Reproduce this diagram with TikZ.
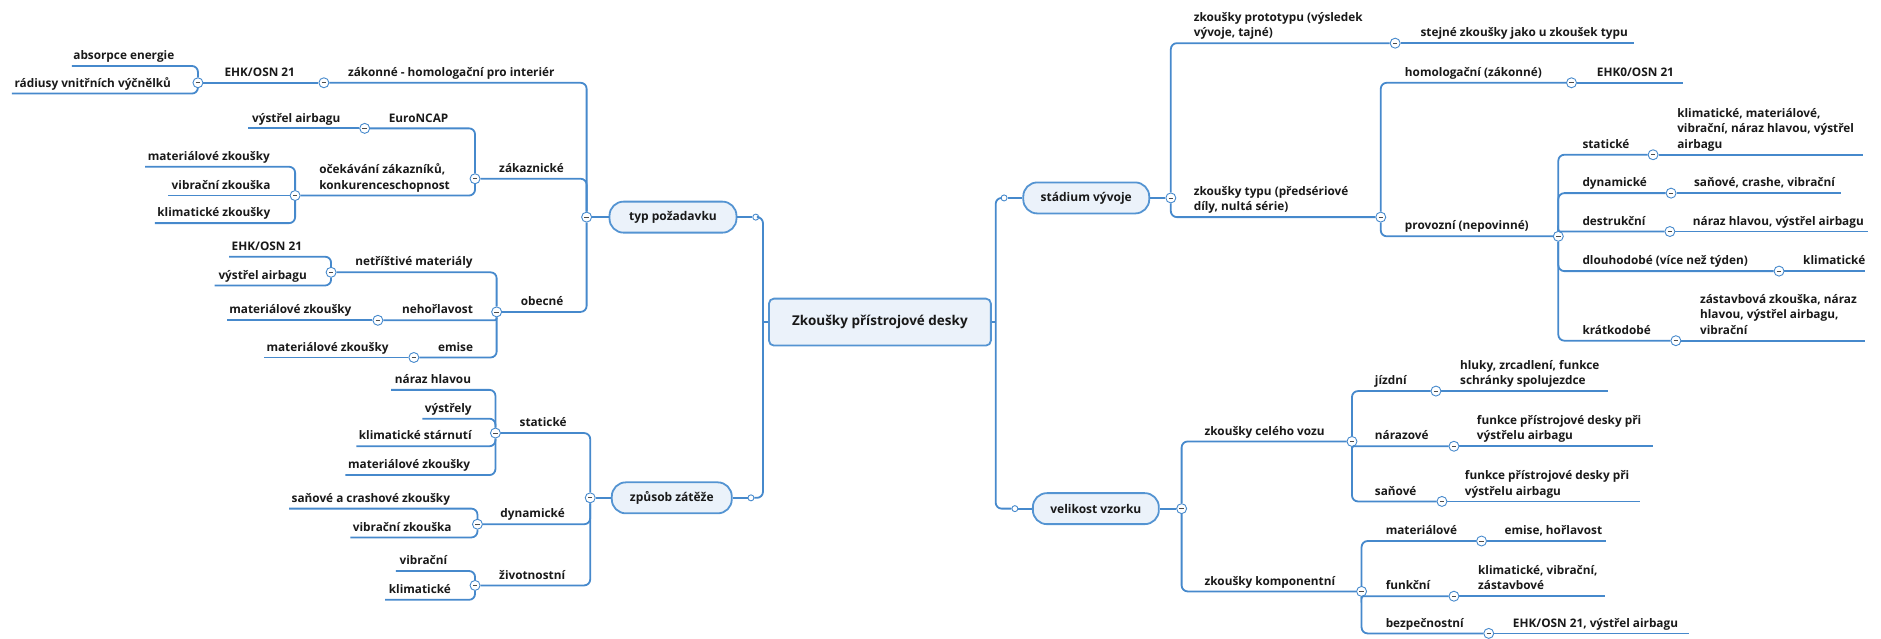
\documentclass[tikz,border=0pt]{standalone}
\usepackage{fontspec}
\setmainfont{Open Sans}
\definecolor{lineblue}{RGB}{70,137,204}
\definecolor{pillfill}{RGB}{235,242,250}
\definecolor{pilldraw}{RGB}{84,148,210}
\definecolor{txtcol}{RGB}{25,25,25}
\tikzset{
  lnk/.style ={draw=lineblue,line width=1.8pt,rounded corners=6pt},
  tog/.style ={circle,draw=lineblue,fill=white,line width=0.9pt,minimum size=10pt,inner sep=0pt,
               path picture={\draw[black!70,line width=0.8pt]
                 ([xshift=-2.2pt]path picture bounding box.center) -- ([xshift=2.2pt]path picture bounding box.center);}},
  knob/.style={circle,draw=lineblue,fill=white,line width=0.9pt,minimum size=6pt,inner sep=0pt},
  pill/.style={rectangle,draw=pilldraw,fill=pillfill,line width=1.8pt,rounded corners=14pt,
               minimum height=31pt,inner sep=0pt,font=\bfseries\fontsize{12}{14}\selectfont,text=txtcol},
  tx/.style  ={anchor=south west,inner sep=0pt,yshift=1.5pt,align=left,
               font=\bfseries\fontsize{11.8}{15.5}\selectfont,text=txtcol,execute at end node=\strut}
}

\begin{document}
\begin{tikzpicture}[x=1.2pt,y=-1.2pt]
\useasboundingbox (0,0) rectangle (1568,532);

% -------- centre --------
\node[rectangle,draw=pilldraw,fill=pillfill,line width=1.8pt,rounded corners=5pt,minimum width=222pt,
      minimum height=47pt,font=\bfseries\fontsize{13.5}{16}\selectfont,text=txtcol] (root) at (733.5,268.5)
      {Zkoušky přístrojové desky};
\node[pill,minimum width=127pt] (typ)  at (561,181)   {typ požadavku};
\node[pill,minimum width=120pt] (zat)  at (560,415)   {způsob zátěže};
\node[pill,minimum width=126pt] (stad) at (905.5,165) {stádium vývoje};
\node[pill,minimum width=126pt] (vel)  at (913.5,424) {velikost vzorku};

\coordinate (jl) at (636,268.5);
\coordinate (jr) at (830,268.5);
\node[knob] (typK)  at (630,181) {};
\node[knob] (zatK)  at (626,415) {};
\node[knob] (stadK) at (837,165) {};
\node[knob] (velK)  at (846,424) {};

\draw[lnk] (typK) -| (jl) |- (zatK);
\draw[lnk] (stadK) -| (jr) |- (velK);
\foreach \a/\b in {root.west/jl,root.east/jr,typ/typK,zat/zatK,stad/stadK,vel/velK} \draw[lnk] (\a) -- (\b);

% -------- toggles --------
\node[tog] (typG)  at (489,181) {};
\node[tog] (zatG)  at (492,415) {};
\node[tog] (stadG) at (976,165) {};
\node[tog] (velG)  at (985,424) {};

\node[tog] (zak)  at (270,69)  {};
\node[tog] (ehk1) at (165,69)  {};
\node[tog] (zkaz) at (396,149) {};
\node[tog] (euro) at (304,107) {};
\node[tog] (ocek) at (246,163) {};
\node[tog] (obe)  at (414,260) {};
\node[tog] (net)  at (276,227) {};
\node[tog] (neh)  at (315,267) {};
\node[tog] (emi)  at (345,298) {};

\node[tog] (sta)  at (413,361) {};
\node[tog] (dyn)  at (398,437) {};
\node[tog] (ziv)  at (396,488) {};

\node[tog] (pro)  at (1163,36)  {};
\node[tog] (ztyp) at (1151,181) {};
\node[tog] (hom)  at (1310,69)  {};
\node[tog] (prv)  at (1299,197) {};
\node[tog] (sta2) at (1378,129) {};
\node[tog] (dyn2) at (1393,161) {};
\node[tog] (des)  at (1392,193) {};
\node[tog] (dlo)  at (1483,226) {};
\node[tog] (kra)  at (1397,284) {};

\node[tog] (cel)  at (1127,368) {};
\node[tog] (jiz)  at (1197,326) {};
\node[tog] (nrz)  at (1212,372) {};
\node[tog] (sno)  at (1202,418) {};
\node[tog] (kom)  at (1135,493) {};
\node[tog] (mtr)  at (1235,451) {};
\node[tog] (fnk)  at (1212,497) {};
\node[tog] (bez)  at (1241,528) {};

% -------- free ends of the leaves --------
\coordinate (abs)  at (60,55);
\coordinate (rad)  at (10,78);
\coordinate (vys1) at (207,107);
\coordinate (mat1) at (121,139);
\coordinate (vib1) at (140,163);
\coordinate (kli1) at (129,186);
\coordinate (ehk2) at (191,214);
\coordinate (vys2) at (179,238);
\coordinate (mat2) at (189,267);
\coordinate (mat3) at (220,298);
\coordinate (nar1) at (326,325);
\coordinate (vys3) at (352,349);
\coordinate (kst)  at (297,372);
\coordinate (mat4) at (288,396);
\coordinate (san1) at (241,424);
\coordinate (vib2) at (292,448);
\coordinate (vib3) at (330,476);
\coordinate (kli2) at (321,500);
\coordinate (stej) at (1362,36);
\coordinate (ehk3) at (1403,69);
\coordinate (kl3)  at (1553,129);
\coordinate (san2) at (1535,161);
\coordinate (nar2) at (1557,193);
\coordinate (kli4) at (1555,226);
\coordinate (zas)  at (1555,284);
\coordinate (hlu)  at (1340,326);
\coordinate (fun1) at (1378,372);
\coordinate (fun2) at (1367,418);
\coordinate (emh)  at (1339,451);
\coordinate (kvz)  at (1338,497);
\coordinate (ehv)  at (1408,528);

% -------- branches --------
\draw[lnk] (typ) -- (typG);
\draw[lnk] (zat) -- (zatG);
\draw[lnk] (stad) -- (stadG);
\draw[lnk] (vel) -- (velG);

\foreach \a/\b in {typG/zak,typG/zkaz,typG/obe,ehk1/abs,ehk1/rad,zkaz/euro,zkaz/ocek,ocek/mat1,ocek/kli1,
                   obe/net,obe/emi,net/ehk2,net/vys2,zatG/sta,zatG/dyn,zatG/ziv,sta/nar1,sta/vys3,sta/kst,
                   sta/mat4,dyn/san1,dyn/vib2,ziv/vib3,ziv/kli2,stadG/pro,stadG/ztyp,ztyp/hom,ztyp/prv,
                   prv/sta2,prv/dyn2,prv/dlo,prv/kra,velG/cel,velG/kom,cel/jiz,cel/sno,kom/mtr,kom/bez}
  \draw[lnk] (\a) |- (\b);
\foreach \a/\b in {obe/neh,prv/des,cel/nrz,kom/fnk} \draw[lnk,rounded corners=2pt] (\a) |- (\b);
\foreach \a/\b in {zak/ehk1,euro/vys1,ocek/vib1,neh/mat2,emi/mat3,pro/stej,hom/ehk3,sta2/kl3,dyn2/san2,
                   des/nar2,dlo/kli4,kra/zas,jiz/hlu,nrz/fun1,sno/fun2,mtr/emh,fnk/kvz,bez/ehv}
  \draw[lnk] (\a) -- (\b);

% -------- texts, left --------
\node[tx] (zakT)  at (290,69)  {zákonné - homologační pro interiér};
\node[tx] (ehk1T) at (187,69)  {EHK/OSN 21};
\node[tx] (absT)  at (61,55)   {absorpce energie};
\node[tx] (radT)  at (12,78)   {rádiusy vnitřních výčnělků};
\node[tx] (zkazT) at (416,149) {zákaznické};
\node[tx] (euroT) at (324,107) {EuroNCAP};
\node[tx] (vys1T) at (210,107) {výstřel airbagu};
\node[tx] (ocekT) at (266,163) {očekávání zákazníků,\\konkurenceschopnost};
\node[tx] (mat1T) at (123,139) {materiálové zkoušky};
\node[tx] (vib1T) at (143,163) {vibrační zkouška};
\node[tx] (kli1T) at (131,186) {klimatické zkoušky};
\node[tx] (obeT)  at (434,260) {obecné};
\node[tx] (netT)  at (296,227) {netříštivé materiály};
\node[tx] (ehk2T) at (193,214) {EHK/OSN 21};
\node[tx] (vys2T) at (182,238) {výstřel airbagu};
\node[tx] (nehT)  at (335,267) {nehořlavost};
\node[tx] (mat2T) at (191,267) {materiálové zkoušky};
\node[tx] (emiT)  at (365,298) {emise};
\node[tx] (mat3T) at (222,298) {materiálové zkoušky};

\node[tx] (staT)  at (433,361) {statické};
\node[tx] (nar1T) at (329,325) {náraz hlavou};
\node[tx] (vys3T) at (354,349) {výstřely};
\node[tx] (kstT)  at (299,372) {klimatické stárnutí};
\node[tx] (mat4T) at (290,396) {materiálové zkoušky};
\node[tx] (dynT)  at (417,437) {dynamické};
\node[tx] (san1T) at (243,424) {saňové a crashové zkoušky};
\node[tx] (vib2T) at (294,448) {vibrační zkouška};
\node[tx] (zivT)  at (416,488) {životnostní};
\node[tx] (vib3T) at (333,476) {vibrační};
\node[tx] (kli2T) at (324,500) {klimatické};

% -------- texts, right --------
\node[tx] (proT)  at (995,36)   {zkoušky prototypu (výsledek\\vývoje, tajné)};
\node[tx] (stejT) at (1184,36)  {stejné zkoušky jako u zkoušek typu};
\node[tx] (ztypT) at (995,181)  {zkoušky typu (předsériové\\díly, nultá série)};
\node[tx] (homT)  at (1171,69)  {homologační (zákonné)};
\node[tx] (ehk3T) at (1331,69)  {EHK0/OSN 21};
\node[tx] (prvT)  at (1171,197) {provozní (nepovinné)};
\node[tx] (sta2T) at (1319,129) {statické};
\node[tx] (kl3T)  at (1398,129) {klimatické, materiálové,\\vibrační, náraz hlavou, výstřel\\airbagu};
\node[tx] (dyn2T) at (1319,161) {dynamické};
\node[tx] (san2T) at (1412,161) {saňové, crashe, vibrační};
\node[tx] (desT)  at (1319,193) {destrukční};
\node[tx] (nar2T) at (1411,193) {náraz hlavou, výstřel airbagu};
\node[tx] (dloT)  at (1319,226) {dlouhodobé (více než týden)};
\node[tx] (kli4T) at (1503,226) {klimatické};
\node[tx] (kraT)  at (1319,284) {krátkodobé};
\node[tx] (zasT)  at (1417,284) {zástavbová zkouška, náraz\\hlavou, výstřel airbagu,\\vibrační};

\node[tx] (celT)  at (1004,368) {zkoušky celého vozu};
\node[tx] (jizT)  at (1146,326) {jízdní};
\node[tx] (hluT)  at (1217,326) {hluky, zrcadlení, funkce\\schránky spolujezdce};
\node[tx] (nrzT)  at (1146,372) {nárazové};
\node[tx] (fun1T) at (1231,372) {funkce přístrojové desky při\\výstřelu airbagu};
\node[tx] (snoT)  at (1146,418) {saňové};
\node[tx] (fun2T) at (1221,418) {funkce přístrojové desky při\\výstřelu airbagu};
\node[tx] (komT)  at (1004,493) {zkoušky komponentní};
\node[tx] (mtrT)  at (1155,451) {materiálové};
\node[tx] (emhT)  at (1254,451) {emise, hořlavost};
\node[tx] (fnkT)  at (1155,497) {funkční};
\node[tx] (kvzT)  at (1232,497) {klimatické, vibrační,\\zástavbové};
\node[tx] (bezT)  at (1155,528) {bezpečnostní};
\node[tx] (ehvT)  at (1261,528) {EHK/OSN 21, výstřel airbagu};

\end{tikzpicture}
\end{document}
